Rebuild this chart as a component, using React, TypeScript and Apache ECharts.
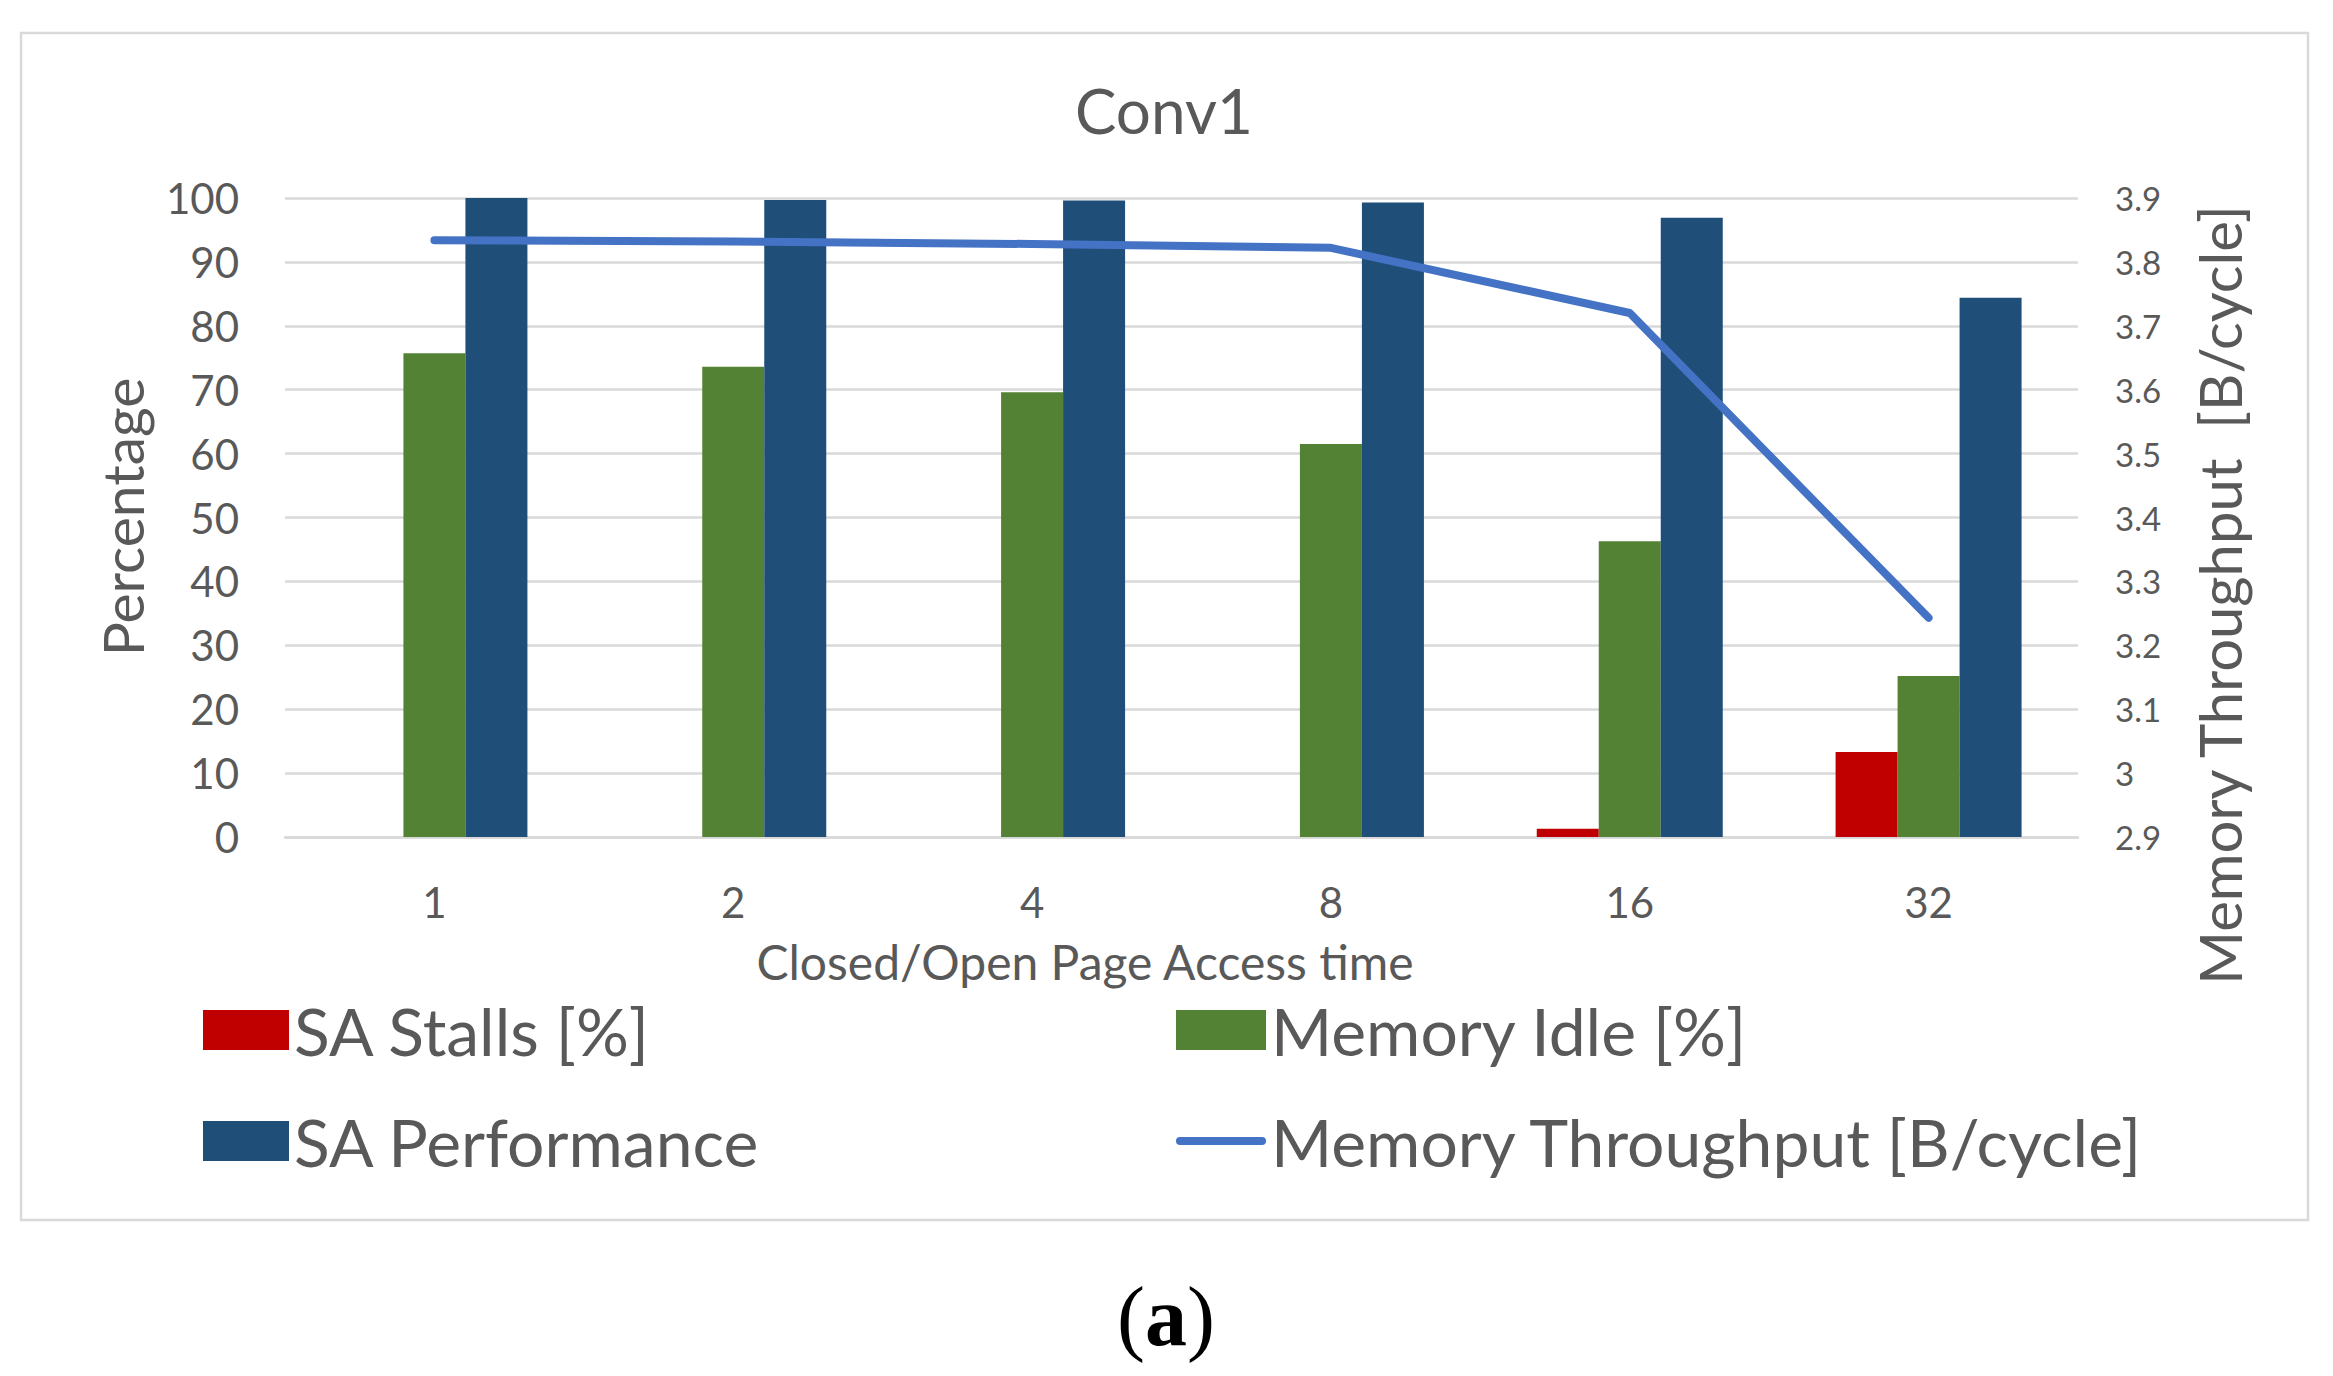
import React, { useEffect, useRef } from "react";
import * as echarts from "echarts";

const categories = ["1", "2", "4", "8", "16", "32"];
const saStalls = [0, 0, 0, 0, 1.3, 13.3];
const memoryIdle = [75.7, 73.6, 69.6, 61.5, 46.3, 25.2];
const saPerformance = [100, 99.7, 99.6, 99.3, 96.9, 84.4];
const memoryThroughput = [3.834, 3.832, 3.828, 3.822, 3.72, 3.243];

const seriesNames = [
  "SA Stalls [%]",
  "Memory Idle [%]",
  "SA Performance",
  "Memory Throughput [B/cycle]",
];
const chartTitle = "Conv1";
const xTitle = "Closed/Open Page Access time";
const leftTitle = "Percentage";
const rightTitle = "Memory Throughput  [B/cycle]";

const FONT = "Lato";
const TXT = "#595959";
const GRID = "#d9d9d9";
const LINE_ICON = "path://M4 0L86 0A4 4 0 0 1 86 8L4 8A4 4 0 0 1 4 0Z";

export default function App() {
  const ref = useRef<HTMLDivElement>(null);
  useEffect(() => {
    if (!ref.current) return;
    const chart = echarts.init(ref.current, null, { renderer: "svg" });
    chart.setOption({
      animation: false,
      backgroundColor: "#ffffff",
      textStyle: { fontFamily: FONT, color: TXT },
      grid: { left: 285, right: 255, top: 198, bottom: 539, containLabel: false },
      xAxis: {
        type: "category",
        data: categories,
        axisLine: { show: true, lineStyle: { color: GRID, width: 2.5 } },
        axisTick: { show: false },
        axisLabel: { fontFamily: FONT, fontSize: 42, color: TXT, margin: 44 },
      },
      yAxis: [
        {
          type: "value",
          min: 0,
          max: 100,
          interval: 10,
          axisLine: { show: false },
          axisTick: { show: false },
          splitLine: { show: true, lineStyle: { color: GRID, width: 2.5 } },
          axisLabel: { fontFamily: FONT, fontSize: 42, color: TXT, margin: 46 },
        },
        {
          type: "value",
          min: 2.9,
          max: 3.9,
          interval: 0.1,
          axisLine: { show: false },
          axisTick: { show: false },
          splitLine: { show: false },
          axisLabel: {
            fontFamily: FONT,
            fontSize: 33,
            color: TXT,
            margin: 37,
            formatter: (v: number) => String(+v.toFixed(1)),
          },
        },
      ],
      legend: [
        {
          orient: "vertical",
          left: 203,
          top: 997,
          padding: 0,
          itemWidth: 86,
          itemHeight: 40,
          itemGap: 45,
          icon: "rect",
          selectedMode: false,
          textStyle: { fontFamily: FONT, fontSize: 66, color: TXT, lineHeight: 66 },
          data: [seriesNames[0], seriesNames[2]],
        },
        {
          orient: "vertical",
          left: 1176,
          top: 997,
          padding: 0,
          itemWidth: 90,
          itemHeight: 40,
          itemGap: 45,
          selectedMode: false,
          symbolKeepAspect: true,
          textStyle: { fontFamily: FONT, fontSize: 66, color: TXT, lineHeight: 66 },
          data: [
            { name: seriesNames[1], icon: "rect" },
            { name: seriesNames[3], icon: LINE_ICON },
          ],
        },
      ],
      series: [
        {
          name: seriesNames[0],
          type: "bar",
          data: saStalls,
          barWidth: 62,
          barGap: "0%",
          itemStyle: { color: "#C00000" },
        },
        {
          name: seriesNames[1],
          type: "bar",
          data: memoryIdle,
          barWidth: 62,
          barGap: "0%",
          itemStyle: { color: "#548235" },
        },
        {
          name: seriesNames[2],
          type: "bar",
          data: saPerformance,
          barWidth: 62,
          barGap: "0%",
          itemStyle: { color: "#1F4E79" },
        },
        {
          name: seriesNames[3],
          type: "line",
          yAxisIndex: 1,
          data: memoryThroughput,
          symbol: "none",
          lineStyle: { color: "#4472C4", width: 8, cap: "round", join: "round" },
          itemStyle: { color: "#4472C4" },
          z: 5,
        },
      ],
      graphic: [
        {
          type: "rect",
          shape: { x: 21, y: 33, width: 2287, height: 1187 },
          style: { fill: "none", stroke: GRID, lineWidth: 2.5 },
          z: -1,
        },
        {
          type: "text",
          x: 1164,
          y: 110,
          style: {
            text: chartTitle,
            fontFamily: FONT,
            fontSize: 62,
            fill: TXT,
            align: "center",
            verticalAlign: "middle",
          },
        },
        {
          type: "text",
          x: 1085,
          y: 961,
          style: {
            text: xTitle,
            fontFamily: FONT,
            fontSize: 48,
            fill: TXT,
            align: "center",
            verticalAlign: "middle",
          },
        },
        {
          type: "text",
          x: 122,
          y: 517,
          rotation: Math.PI / 2,
          style: {
            text: leftTitle,
            fontFamily: FONT,
            fontSize: 57,
            fill: TXT,
            align: "center",
            verticalAlign: "middle",
          },
        },
        {
          type: "text",
          x: 2219,
          y: 595,
          rotation: Math.PI / 2,
          style: {
            text: rightTitle,
            fontFamily: FONT,
            fontSize: 58,
            fill: TXT,
            align: "center",
            verticalAlign: "middle",
          },
        },
        {
          type: "text",
          x: 1166,
          y: 1316,
          style: {
            text: "{p|(}{b|a}{p|)}",
            align: "center",
            verticalAlign: "middle",
            rich: {
              p: { fontFamily: "Liberation Serif", fontSize: 84, fill: "#000", fontWeight: "normal" },
              b: { fontFamily: "Liberation Serif", fontSize: 84, fill: "#000", fontWeight: "bold" },
            },
          },
        },
      ],
    });
    return () => chart.dispose();
  }, []);
  return (
    <div
      ref={ref}
      style={{ position: "absolute", left: 0, top: 0, width: 2333, height: 1376, background: "#fff" }}
    />
  );
}
